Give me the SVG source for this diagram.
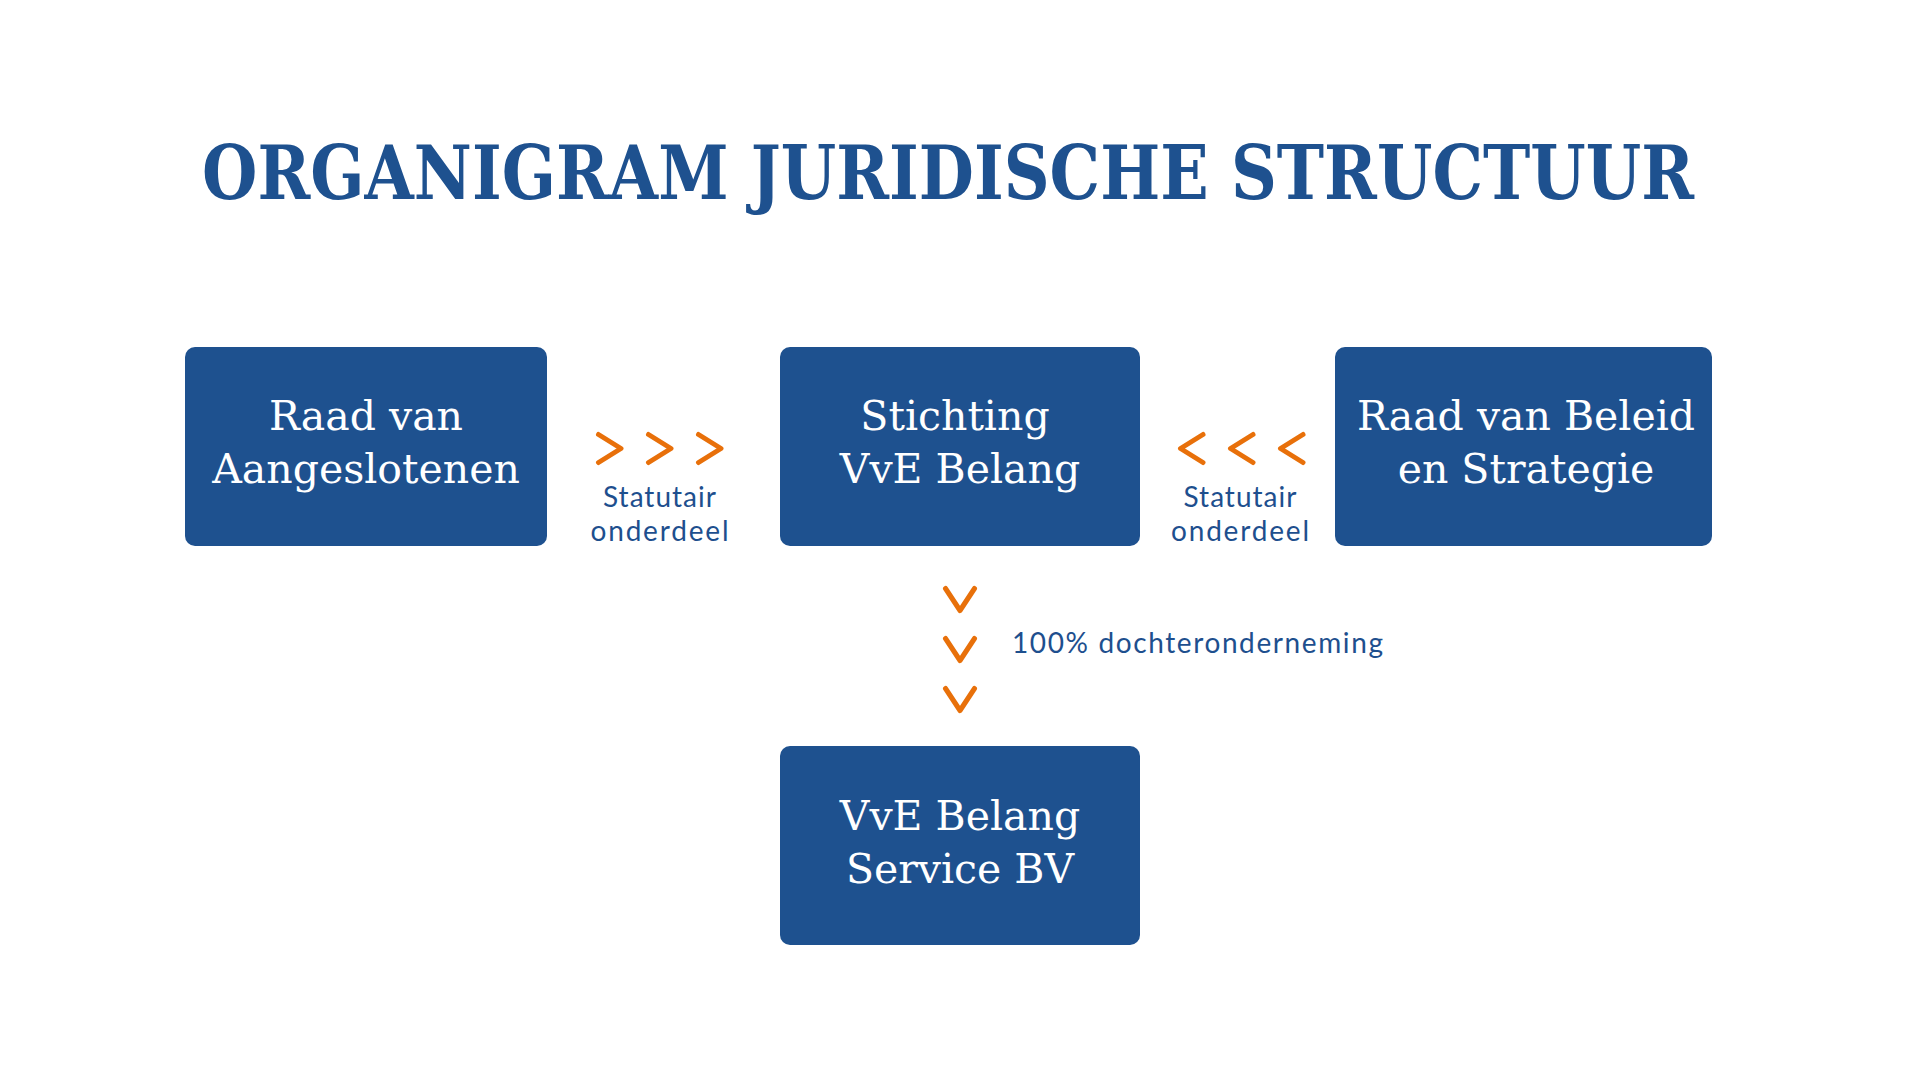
<svg xmlns="http://www.w3.org/2000/svg" width="1920" height="1080" viewBox="0 0 1920 1080">
  <defs>
    <style>
      .box { fill: #1e518f; }
      .boxtxt { fill: #ffffff; font-family: "DejaVu Serif", "Liberation Serif", serif; font-size: 41px; text-anchor: middle; }
      .title { fill: #1e518f; font-family: "DejaVu Serif", "Liberation Serif", serif; font-weight: bold; font-size: 75px; }
      .lbl { fill: #1e4f8e; font-family: Lato, "Open Sans", sans-serif; font-size: 28px; }
      .chev { fill: none; stroke: #e8700a; stroke-width: 5; stroke-linecap: round; stroke-linejoin: round; }
    </style>
  </defs>
  <rect width="1920" height="1080" fill="#ffffff"/>

  <g transform="translate(202,199) scale(0.87,1)">
    <text id="title" class="title" x="0" y="0" textLength="1715" lengthAdjust="spacingAndGlyphs">ORGANIGRAM JURIDISCHE STRUCTUUR</text>
  </g>

  <g id="connectors">
    <g id="conn-left">
      <path class="chev" d="M598.5,434.5 L621,448.5 L598.5,462.5"/>
      <path class="chev" d="M648.5,434.5 L671,448.5 L648.5,462.5"/>
      <path class="chev" d="M698.5,434.5 L721,448.5 L698.5,462.5"/>
      <text class="lbl" x="659.5" y="507" text-anchor="middle" textLength="113">Statutair</text>
      <text class="lbl" x="659.5" y="541" text-anchor="middle" textLength="138">onderdeel</text>
    </g>
    <g id="conn-right">
      <path class="chev" d="M1203,434.5 L1180.5,448.5 L1203,462.5"/>
      <path class="chev" d="M1253,434.5 L1230.5,448.5 L1253,462.5"/>
      <path class="chev" d="M1303,434.5 L1280.5,448.5 L1303,462.5"/>
      <text class="lbl" x="1240" y="507" text-anchor="middle" textLength="113">Statutair</text>
      <text class="lbl" x="1240" y="541" text-anchor="middle" textLength="138">onderdeel</text>
    </g>
    <g id="conn-down">
      <path class="chev" d="M945.5,588.5 L960,610.5 L974.5,588.5"/>
      <path class="chev" d="M945.5,638.5 L960,660.5 L974.5,638.5"/>
      <path class="chev" d="M945.5,688.5 L960,710.5 L974.5,688.5"/>
      <text class="lbl" x="1012" y="653" textLength="371">100% dochteronderneming</text>
    </g>
  </g>

  <g id="node-aangeslotenen">
    <rect class="box" x="185" y="347" width="362" height="199" rx="10"/>
    <text class="boxtxt" x="366" y="430">Raad van</text>
    <text class="boxtxt" x="366" y="483">Aangeslotenen</text>
  </g>
  <g id="node-stichting">
    <rect class="box" x="780" y="347" width="360" height="199" rx="10"/>
    <text class="boxtxt" x="955" y="430">Stichting</text>
    <text class="boxtxt" x="960" y="483">VvE Belang</text>
  </g>
  <g id="node-beleid">
    <rect class="box" x="1335" y="347" width="377" height="199" rx="10"/>
    <text class="boxtxt" x="1526" y="430">Raad van Beleid</text>
    <text class="boxtxt" x="1526" y="483">en Strategie</text>
  </g>
  <g id="node-service">
    <rect class="box" x="780" y="746" width="360" height="199" rx="10"/>
    <text class="boxtxt" x="960" y="830">VvE Belang</text>
    <text class="boxtxt" x="960" y="883">Service BV</text>
  </g>
</svg>
